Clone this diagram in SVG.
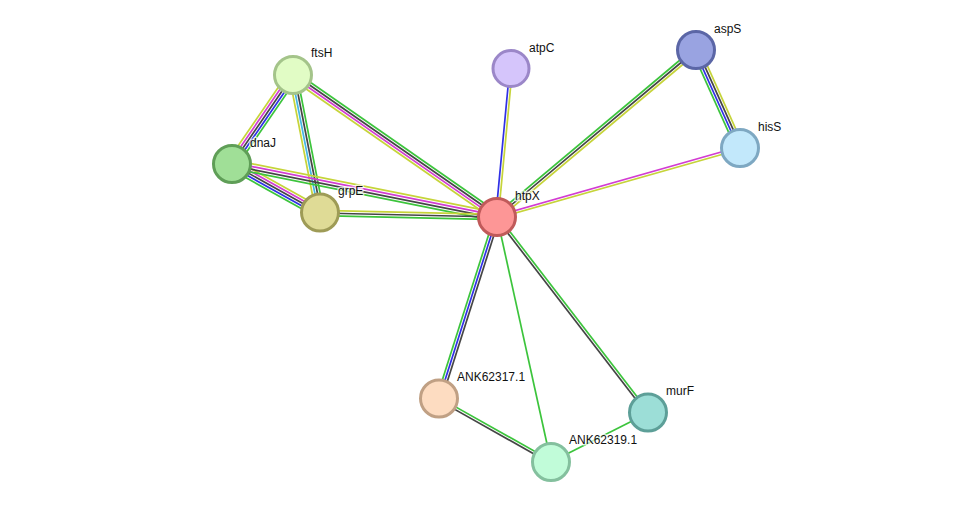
<svg xmlns="http://www.w3.org/2000/svg" width="976" height="507" viewBox="0 0 976 507">
<style>
.e line{stroke-width:1.7;fill:none}
.g{stroke:#3cc43c}.y{stroke:#c6d43a}.m{stroke:#d23cd2}.k{stroke:#454545}.b{stroke:#3030e6}.c{stroke:#45b8e2}
.n circle{stroke-width:3}
.n text{font-family:"Liberation Sans",Arial,sans-serif;font-size:12px;fill:#111;stroke:#fff;stroke-width:3;stroke-opacity:0.7;paint-order:stroke;stroke-linejoin:round}
</style>
<rect width="976" height="507" fill="#fff"/>
<g id="connectors" class="e">
<!-- ftsH-dnaJ -->
<g transform="translate(293,75) rotate(124.42)">
<line class="y" x2="107.9" y1="5.2" y2="5.2"/><line class="m" x2="107.9" y1="2.6" y2="2.6"/><line class="k" x2="107.9"/><line class="b" x2="107.9" y1="-2.6" y2="-2.6"/><line class="g" x2="107.9" y1="-5.2" y2="-5.2"/>
</g>
<!-- ftsH-grpE -->
<g transform="translate(293,75) rotate(78.93)">
<line class="y" x2="140.6" y1="3.9" y2="3.9"/><line class="c" x2="140.6" y1="1.3" y2="1.3"/><line class="k" x2="140.6" y1="-1.3" y2="-1.3"/><line class="g" x2="140.6" y1="-3.9" y2="-3.9"/>
</g>
<!-- dnaJ-grpE -->
<g transform="translate(232,164) rotate(29.11)">
<line class="y" x2="100.7" y1="-5.2" y2="-5.2"/><line class="m" x2="100.7" y1="-2.6" y2="-2.6"/><line class="k" x2="100.7"/><line class="b" x2="100.7" y1="2.6" y2="2.6"/><line class="g" x2="100.7" y1="5.2" y2="5.2"/>
</g>
<!-- dnaJ-htpX -->
<g transform="translate(232,164) rotate(11.31)">
<line class="y" x2="270.2" y1="-4.2" y2="-4.2"/><line class="m" x2="270.2" y1="-1.4" y2="-1.4"/><line class="k" x2="270.2" y1="1.4" y2="1.4"/><line class="g" x2="270.2" y1="4.2" y2="4.2"/>
</g>
<!-- grpE-htpX -->
<g transform="translate(320,213) rotate(1.29)">
<line class="y" x2="177" y1="-2.6" y2="-2.6"/><line class="k" x2="177"/><line class="g" x2="177" y1="2.6" y2="2.6"/>
</g>
<!-- ftsH-htpX -->
<g transform="translate(293,75) rotate(34.84)">
<line class="g" x2="248.6" y1="-3.9" y2="-3.9"/><line class="k" x2="248.6" y1="-1.3" y2="-1.3"/><line class="m" x2="248.6" y1="1.3" y2="1.3"/><line class="y" x2="248.6" y1="3.9" y2="3.9"/>
</g>
<!-- atpC-htpX -->
<g transform="translate(511,69) rotate(95.40)">
<line class="b" x2="148.7" y1="1.3" y2="1.3"/><line class="y" x2="148.7" y1="-1.3" y2="-1.3"/>
</g>
<!-- aspS-htpX -->
<g transform="translate(696,50) rotate(140.0)">
<line class="g" x2="259.8" y1="2.6" y2="2.6"/><line class="k" x2="259.8"/><line class="y" x2="259.8" y1="-2.6" y2="-2.6"/>
</g>
<!-- aspS-hisS -->
<g transform="translate(696,50) rotate(65.82)">
<line class="g" x2="107.4" y1="3.9" y2="3.9"/><line class="b" x2="107.4" y1="1.3" y2="1.3"/><line class="k" x2="107.4" y1="-1.3" y2="-1.3"/><line class="y" x2="107.4" y1="-3.9" y2="-3.9"/>
</g>
<!-- hisS-htpX -->
<g transform="translate(740,148) rotate(164.15)">
<line class="m" x2="252.6" y1="1.3" y2="1.3"/><line class="y" x2="252.6" y1="-1.3" y2="-1.3"/>
</g>
<!-- htpX-ANK62317.1 -->
<g transform="translate(497,217) rotate(107.68)">
<line class="g" x2="191" y1="2.6" y2="2.6"/><line class="b" x2="191"/><line class="k" x2="191" y1="-2.6" y2="-2.6"/>
</g>
<!-- htpX-ANK62319.1 -->
<line class="g" x1="497" y1="217" x2="551" y2="462"/>
<!-- htpX-murF -->
<g transform="translate(497,217) rotate(52.39)">
<line class="k" x2="247.4" y1="1.3" y2="1.3"/><line class="g" x2="247.4" y1="-1.3" y2="-1.3"/>
</g>
<!-- ANK62317.1-ANK62319.1 -->
<g transform="translate(439,399) rotate(29.36)">
<line class="g" x2="128.5" y1="-1.3" y2="-1.3"/><line class="k" x2="128.5" y1="1.3" y2="1.3"/>
</g>
<!-- ANK62319.1-murF -->
<line class="g" x1="551" y1="462" x2="648" y2="413"/>
</g>
<g id="ftsH" class="n"><circle cx="293" cy="75" r="18.5" fill="#e1fcc5" stroke="#a4c48a"/><text x="311" y="57">ftsH</text></g>
<g id="atpC" class="n"><circle cx="511" cy="68.5" r="18" fill="#d5c5fb" stroke="#9b87c8"/><text x="529" y="52">atpC</text></g>
<g id="aspS" class="n"><circle cx="696" cy="50" r="18.5" fill="#99a3e1" stroke="#5b66a6"/><text x="714" y="32.5">aspS</text></g>
<g id="hisS" class="n"><circle cx="740" cy="148" r="18.5" fill="#c2e8fb" stroke="#7ea8c2"/><text x="758" y="130.5">hisS</text></g>
<g id="dnaJ" class="n"><circle cx="232" cy="164" r="18.5" fill="#a0df97" stroke="#5f9e57"/><text x="250" y="147">dnaJ</text></g>
<g id="grpE" class="n"><circle cx="320" cy="212.5" r="18.5" fill="#dfdb96" stroke="#9e9b56"/><text x="338" y="195">grpE</text></g>
<g id="htpX" class="n"><circle cx="497" cy="217" r="18.5" fill="#fd9696" stroke="#c05a5a"/><text x="515" y="200">htpX</text></g>
<g id="ANK62317.1" class="n"><circle cx="439" cy="398.5" r="18.5" fill="#fddcc1" stroke="#c0a084"/><text x="457" y="381">ANK62317.1</text></g>
<g id="murF" class="n"><circle cx="648" cy="412.5" r="18.5" fill="#9cded7" stroke="#5d9f98"/><text x="666" y="395">murF</text></g>
<g id="ANK62319.1" class="n"><circle cx="551" cy="462" r="18.5" fill="#c1fcd9" stroke="#84c09e"/><text x="569" y="444">ANK62319.1</text></g>
</svg>
